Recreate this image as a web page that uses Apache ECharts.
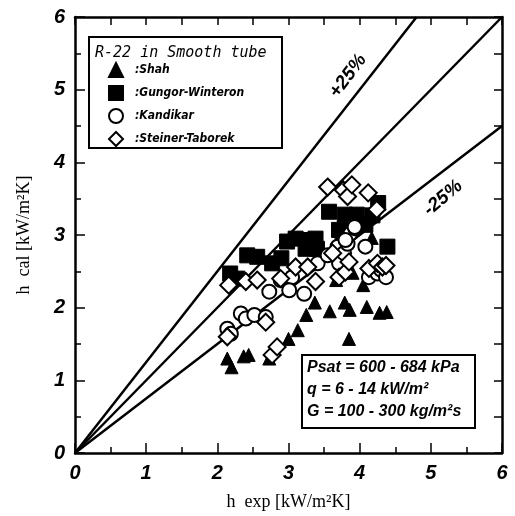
<!DOCTYPE html>
<html><head><meta charset="utf-8">
<script src="https://cdn.jsdelivr.net/npm/echarts@6/dist/echarts.min.js"></script>
<style>html,body{margin:0;padding:0;background:#fff}#c{width:515px;height:516px}</style>
</head><body><div id="c"></div>
<script>
const xTicks = [0,1,2,3,4,5,6];
const yTicks = [0,1,2,3,4,5,6];
const shah = [[2.14,1.30],[2.20,1.18],[2.37,1.33],[2.44,1.35],[2.73,1.30],[3.00,1.57],[3.13,1.69],[3.25,1.90],[3.37,2.07],[3.58,1.95],[3.79,2.07],[3.86,1.97],[3.85,1.57],[4.10,2.01],[4.28,1.93],[4.38,1.94],[3.67,2.38],[3.90,2.48],[4.05,2.31],[4.17,2.96]];
const gungor = [[2.18,2.47],[2.28,2.40],[2.42,2.72],[2.56,2.70],[2.77,2.61],[2.90,2.68],[2.98,2.91],[3.10,2.95],[3.26,2.93],[3.38,2.95],[3.24,2.81],[3.40,2.81],[3.57,3.32],[3.71,3.07],[3.79,3.28],[3.90,3.23],[3.96,3.28],[4.08,3.14],[4.18,3.27],[4.26,3.44],[4.39,2.84],[3.76,2.93],[3.33,2.93]];
const kandikar = [[2.14,1.71],[2.19,1.64],[2.33,1.92],[2.40,1.85],[2.52,1.90],[2.68,1.87],[2.73,2.22],[2.89,2.38],[3.05,2.42],[3.01,2.24],[3.22,2.19],[3.41,2.61],[3.55,2.72],[3.69,2.84],[3.71,2.61],[3.78,2.75],[3.83,2.88],[3.87,3.02],[3.94,3.09],[4.08,2.84],[4.13,2.42],[4.25,2.47],[4.30,2.52],[4.37,2.42],[3.80,2.93],[3.93,3.11]];
const steiner = [[2.14,1.60],[2.16,2.31],[2.40,2.36],[2.56,2.38],[2.68,1.80],[2.77,1.35],[2.84,1.46],[2.89,2.40],[3.10,2.56],[3.27,2.56],[3.38,2.36],[3.55,3.66],[3.77,3.62],[3.83,3.53],[3.89,3.69],[4.12,3.58],[3.71,2.42],[3.80,2.49],[3.85,2.63],[3.62,2.75],[4.13,2.54],[4.25,2.61],[4.32,2.56],[4.37,2.58],[4.24,3.35]];
const lineEqual = [[0,0],[6,6]];
const linePlus = [[0,0],[4.8,6]];
const lineMinus = [[0,0],[6,4.5]];
const names = ['Shah','Gungor-Winteron','Kandikar','Steiner-Taborek'];

const chart = echarts.init(document.getElementById('c'));
const tickFont = {fontFamily:'Liberation Sans, Arial, sans-serif',fontWeight:'bold',fontStyle:'italic',fontSize:20,color:'#000'};
const axLine = {show:true,onZero:false,lineStyle:{color:'#000',width:2.5}};
function mainAxis(extra){return Object.assign({type:'value',min:0,max:6,interval:1,
  axisLine:axLine,axisTick:{inside:true,length:10,lineStyle:{color:'#000',width:1.5}},
  minorTick:{show:true,splitNumber:2,length:6,lineStyle:{color:'#000',width:1.5}},
  splitLine:{show:false}},extra);}
const sc = (name,data,symbol,size,filled,z)=>({name,type:'scatter',data,symbol,symbolSize:size,z,
  itemStyle:filled?{color:'#000',borderColor:'#000',borderWidth:1,opacity:1}:{color:'#fff',borderColor:'#000',borderWidth:2,opacity:1},emphasis:{disabled:true}});
const ln = (data)=>({type:'line',data,symbol:'none',lineStyle:{color:'#000',width:2.5},z:1,silent:true});
const nameFont = {fontFamily:'Liberation Serif, Times New Roman, serif',fontSize:18,color:'#000'};
chart.setOption({
  animation:false,
  grid:{left:75,right:13,top:17,bottom:63},
  xAxis:[mainAxis({axisLabel:Object.assign({margin:10,formatter:v=>xTicks.includes(v)?String(v):''},tickFont),
          name:'h  exp [kW/m²K]',nameLocation:'middle',nameGap:40,nameTextStyle:nameFont}),
         mainAxis({position:'top',axisLabel:{show:false},axisTick:{inside:true,length:8,lineStyle:{color:'#000',width:1.5}},minorTick:{show:true,splitNumber:2,length:8,lineStyle:{color:'#000',width:1.5}}})],
  yAxis:[mainAxis({axisLabel:Object.assign({margin:10,formatter:v=>yTicks.includes(v)?String(v):''},tickFont),
          name:'h  cal [kW/m²K]',nameLocation:'middle',nameGap:42,nameTextStyle:nameFont}),
         mainAxis({position:'right',axisLabel:{show:false},axisTick:{inside:true,length:8,lineStyle:{color:'#000',width:1.5}},minorTick:{show:true,splitNumber:2,length:8,lineStyle:{color:'#000',width:1.5}}})],
  legend:{orient:'vertical',left:108,top:62,padding:0,itemGap:7,itemWidth:14,itemHeight:14,data:[
      {name:names[0],icon:'triangle'},{name:names[1],icon:'rect'},{name:names[2],icon:'circle'},{name:names[3],icon:'diamond'}],
    formatter:n=>':'+n,
    textStyle:{fontFamily:'DejaVu Sans Condensed, Liberation Sans, sans-serif',fontStyle:'italic',fontWeight:'bold',fontSize:12,color:'#000',padding:[0,0,0,7]}},
  series:[
    ln(lineEqual),ln(linePlus),ln(lineMinus),
    sc(names[0],shah,'triangle',13,true,3),
    sc(names[1],gungor,'rect',15,true,4),
    sc(names[2],kandikar,'circle',14,false,5),
    sc(names[3],steiner,'diamond',17,false,6)
  ],
  graphic:[
    {type:'rect',shape:{x:89,y:37,width:193,height:111},style:{fill:'none',stroke:'#000',lineWidth:2},z:10},
    {type:'text',x:95,y:53,style:{text:'R-22 in Smooth tube',font:'italic 15px "DejaVu Sans Mono", monospace',fill:'#000',verticalAlign:'middle'},z:10},
    {type:'rect',shape:{x:302,y:355,width:173,height:73},style:{fill:'#fff',stroke:'#000',lineWidth:2},z:10},
    {type:'text',x:307,y:368,style:{text:'Psat = 600 - 684 kPa',font:'italic bold 16px "Liberation Sans", sans-serif',fill:'#000',verticalAlign:'middle'},z:11},
    {type:'text',x:307,y:390,style:{text:'q = 6 - 14 kW/m²',font:'italic bold 16px "Liberation Sans", sans-serif',fill:'#000',verticalAlign:'middle'},z:11},
    {type:'text',x:307,y:412,style:{text:'G = 100 - 300 kg/m²s',font:'italic bold 16px "Liberation Sans", sans-serif',fill:'#000',verticalAlign:'middle'},z:11},
    {type:'text',x:348,y:76,rotation:53*Math.PI/180,style:{text:'+25%',font:'italic bold 19px "Liberation Sans", sans-serif',fill:'#000',align:'center',verticalAlign:'middle'},z:11},
    {type:'text',x:443,y:198,rotation:40*Math.PI/180,style:{text:'-25%',font:'italic bold 19px "Liberation Sans", sans-serif',fill:'#000',align:'center',verticalAlign:'middle'},z:11}
  ]
});
</script></body></html>
